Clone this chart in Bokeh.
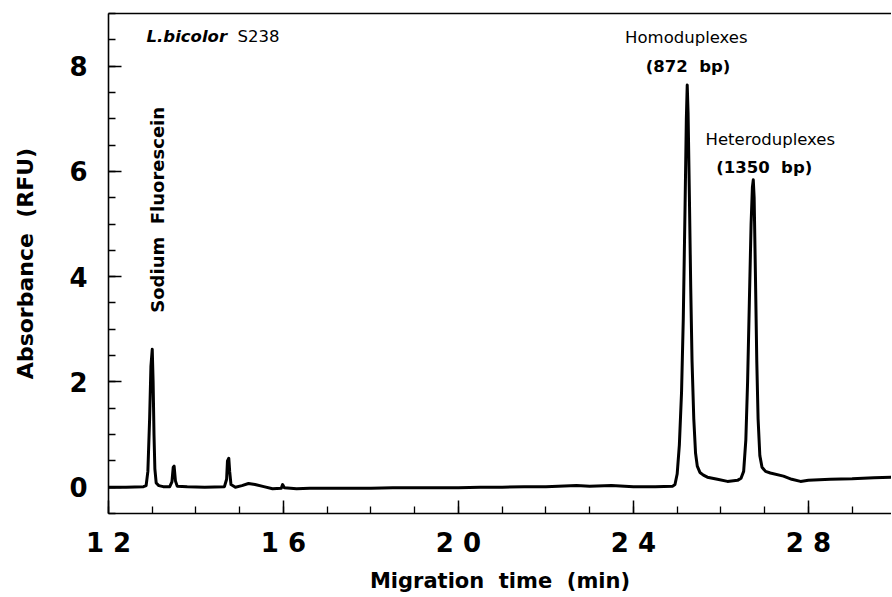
import math
from bokeh.plotting import figure
from bokeh.models import Range1d, SingleIntervalTicker, FixedTicker, LinearAxis, Label
from bokeh.embed import file_html
from bokeh.resources import INLINE

# ---- data ----
time_min = [12.00, 12.40, 12.80, 12.86, 12.90, 12.94, 12.97, 13.00, 13.02, 13.04, 13.06, 13.09,
            13.15, 13.25, 13.40, 13.45, 13.48, 13.50, 13.53, 13.57, 13.80, 14.20, 14.65, 14.70,
            14.72, 14.75, 14.77, 14.80, 14.90, 15.05, 15.20, 15.35, 15.55, 15.75, 15.95, 15.98,
            16.02, 16.30, 16.60, 17.00, 17.50, 18.00, 18.50, 19.00, 19.50, 20.00, 20.50, 21.00,
            21.50, 22.00, 22.70, 23.00, 23.50, 24.00, 24.50, 24.90, 24.95, 25.00, 25.05, 25.10,
            25.14, 25.18, 25.21, 25.23, 25.25, 25.28, 25.31, 25.34, 25.38, 25.42, 25.46, 25.52,
            25.60, 25.69, 25.92, 26.15, 26.38, 26.46, 26.52, 26.57, 26.61, 26.65, 26.69, 26.72,
            26.74, 26.76, 26.79, 26.82, 26.85, 26.89, 26.94, 27.02, 27.13, 27.43, 27.62, 27.82,
            28.00, 28.50, 29.00, 29.50, 29.92]
rfu = [0.00, 0.00, 0.01, 0.03, 0.30, 1.30, 2.30, 2.62, 2.00, 1.00, 0.35, 0.08,
       0.03, 0.01, 0.01, 0.10, 0.38, 0.40, 0.12, 0.02, 0.01, 0.00, 0.01, 0.15,
       0.50, 0.55, 0.30, 0.05, 0.00, 0.03, 0.07, 0.05, 0.01, -0.03, -0.02, 0.05,
       -0.01, -0.03, -0.02, -0.02, -0.02, -0.02, -0.01, -0.01, -0.01, -0.01, 0.00, 0.00,
       0.01, 0.01, 0.03, 0.02, 0.03, 0.01, 0.01, 0.02, 0.05, 0.25, 0.80, 1.80,
       3.20, 5.30, 7.00, 7.64, 7.10, 5.50, 3.80, 2.40, 1.30, 0.65, 0.40, 0.28,
       0.23, 0.19, 0.15, 0.11, 0.13, 0.17, 0.30, 0.90, 2.00, 3.50, 5.00, 5.70,
       5.84, 5.50, 4.00, 2.40, 1.30, 0.60, 0.38, 0.30, 0.27, 0.21, 0.15, 0.11,
       0.13, 0.15, 0.16, 0.18, 0.19]

x_ticks = [12, 16, 20, 24, 28]
x_tick_labels = ["1 2", "1 6", "2 0", "2 4", "2 8"]

SP = " \u00a0"  # wide gap between words, as in the original

# peak annotations: text, x (min), y (RFU), bold
peak_texts = ["Homoduplexes", "(872" + SP + "bp)", "Heteroduplexes", "(1350" + SP + "bp)"]
peak_text_x = [25.21, 25.25, 27.13, 26.99]
peak_text_y = [8.54, 8.00, 6.60, 6.08]
peak_text_bold = [False, True, False, True]

FONT = "DejaVu Sans"

p = figure(width=891, height=596, x_range=Range1d(12, 29.90), y_range=Range1d(-0.5, 9),
           output_backend="svg", toolbar_location=None,
           min_border_left=108, min_border_right=0, min_border_top=13, min_border_bottom=83)
p.outline_line_color = None
p.grid.visible = False
p.background_fill_color = "white"

p.line(time_min, rfu, line_width=3, color="black", line_join="round", line_cap="round")

xa = p.xaxis[0]
xa.ticker = SingleIntervalTicker(interval=4, num_minor_ticks=4)
xa.major_label_overrides = {t: l for t, l in zip(x_ticks, x_tick_labels)}
ya = p.yaxis[0]
ya.ticker = SingleIntervalTicker(interval=2, num_minor_ticks=4)
for ax in (xa, ya):
    ax.major_tick_in = 13
    ax.major_tick_out = 0
    ax.minor_tick_in = 7
    ax.minor_tick_out = 0
    ax.axis_line_width = 1.6
    ax.major_tick_line_width = 1.5
    ax.minor_tick_line_width = 1.3
    ax.axis_line_color = "black"
    ax.major_tick_line_color = "black"
    ax.minor_tick_line_color = "black"
    ax.major_label_text_font = FONT
    ax.major_label_text_font_style = "bold"
    ax.major_label_text_font_size = "26px"
    ax.major_label_text_color = "black"
    ax.axis_label_text_font = FONT
    ax.axis_label_text_font_style = "bold"
    ax.axis_label_text_color = "black"

xa.axis_label = "Migration" + SP + "time" + SP + "(min)"
xa.axis_label_text_font_size = "21px"
xa.major_label_standoff = 14
xa.axis_label_standoff = 8
ya.axis_label = "Absorbance" + SP + "(RFU)"
ya.axis_label_text_font_size = "22px"
ya.major_label_standoff = 21
ya.axis_label_standoff = 28

top = LinearAxis(ticker=FixedTicker(ticks=[]), axis_line_width=1.6, axis_line_color="black",
                 major_tick_in=0, major_tick_out=0, minor_tick_in=0, minor_tick_out=0)
p.add_layout(top, "above")

# sample label
p.add_layout(Label(x=12.87, y=8.56, text="L.bicolor", text_font=FONT, text_font_size="16.5px",
                   text_font_style="bold italic", text_align="left", text_baseline="alphabetic",
                   text_color="black"))
p.add_layout(Label(x=14.95, y=8.56, text="S238", text_font=FONT, text_font_size="16.5px",
                   text_align="left", text_baseline="alphabetic", text_color="black"))

# peak labels
for t, x, y, b in zip(peak_texts, peak_text_x, peak_text_y, peak_text_bold):
    p.add_layout(Label(x=x, y=y, text=t, text_font=FONT, text_font_size="16.5px",
                       text_font_style="bold" if b else "normal", text_color="black",
                       text_align="center", text_baseline="alphabetic"))

# vertical label on the sodium fluorescein peak
p.add_layout(Label(x=13.12, y=5.27, text="Sodium" + SP + "Fluorescein", text_font=FONT,
                   text_font_size="18px", text_font_style="bold", angle=math.pi / 2,
                   text_align="center", text_baseline="middle", text_color="black"))

open("out.html", "w").write(file_html(p, INLINE))
